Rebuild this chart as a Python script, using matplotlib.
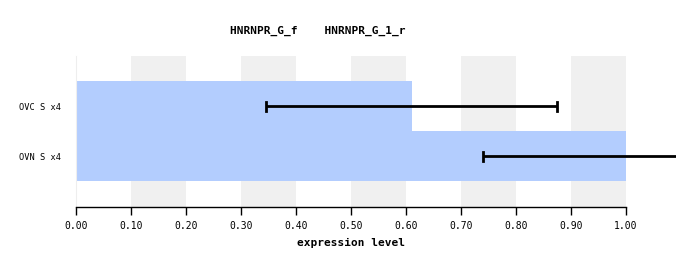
import matplotlib
matplotlib.use("Agg")
import matplotlib.pyplot as plt

samples = ["OVC S x4", "OVN S x4"]
values = [0.61, 1.0]
err_low = [0.345, 0.74]
err_high = [0.875, 1.10]
title = "HNRNPR_G_f    HNRNPR_G_1_r"
ticks = [i / 10 for i in range(11)]

W, H = 676, 266
fig = plt.figure(figsize=(W / 100, H / 100), dpi=100)
ax = fig.add_axes([76 / W, (H - 207) / H, 550 / W, 151 / H])

mono = "DejaVu Sans Mono"

# grey stripes behind the bars
for i in range(1, 10, 2):
    ax.axvspan(ticks[i], ticks[i + 1], color="#f0f0f0", zorder=0, lw=0)

ypos = list(range(len(samples)))
ax.barh(ypos, values, height=1.0, color="#b3cdfe", zorder=1, lw=0)

for y, lo, hi in zip(ypos, err_low, err_high):
    ax.plot([lo, hi], [y, y], color="black", lw=2, zorder=3, clip_on=False,
            solid_capstyle="butt")
    for x in (lo, hi):
        if x <= 1.0:
            ax.plot([x, x], [y - 0.09, y + 0.09], color="black", lw=2, zorder=3)

ax.set_xlim(0, 1)
ax.set_ylim(2.02, -1.0)
ax.set_xticks(ticks)
ax.set_xticklabels([f"{t:.2f}" for t in ticks], family=mono, fontsize=7)
ax.set_yticks(ypos)
ax.set_yticklabels(samples, family=mono, fontsize=6.2)
ax.tick_params(axis="y", length=0, pad=11)
ax.tick_params(axis="x", length=6, width=1, direction="out", pad=4)

for s in ("top", "right"):
    ax.spines[s].set_visible(False)
ax.spines["left"].set_color("#eeeeee")
ax.spines["bottom"].set_linewidth(1)

ax.set_xlabel("expression level", family=mono, fontsize=8, fontweight="bold", labelpad=5)
fig.text(318 / W, 1 - 31 / H, title, family=mono, fontsize=8, fontweight="bold",
         ha="center", va="center")

fig.savefig("out.png", dpi=100)
